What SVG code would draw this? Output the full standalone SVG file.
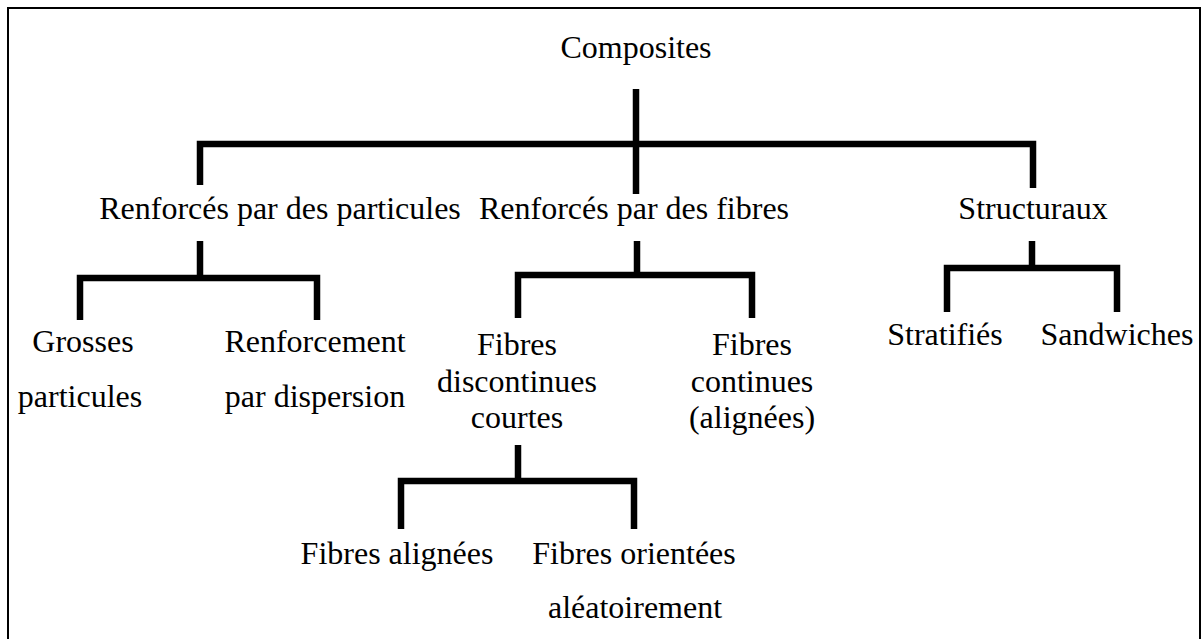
<svg xmlns="http://www.w3.org/2000/svg" width="1203" height="639" viewBox="0 0 1203 639">
<style>
text{font-family:"Liberation Serif","Times New Roman",serif;font-size:32px;fill:#000;text-anchor:middle}
.c{fill:none;stroke:#000;stroke-width:6.5;stroke-linecap:butt;stroke-linejoin:miter}
.b{fill:none;stroke:#000;stroke-width:2}
</style>
<rect width="1203" height="639" fill="#fff"/>
<path class="b" d="M8,639 V8 H1200 V639"/>
<g id="connectors">
<path class="c" d="M636,89 V194"/>
<path class="c" d="M200,185 V144 H1033 V188"/>
<path class="c" d="M200,241 V278"/>
<path class="c" d="M80,320 V278 H317 V320"/>
<path class="c" d="M637,241 V275"/>
<path class="c" d="M518,318 V275 H752 V318"/>
<path class="c" d="M1032,241 V268"/>
<path class="c" d="M947,312 V268 H1117 V312"/>
<path class="c" d="M518,445 V481"/>
<path class="c" d="M401,529 V481 H634 V529"/>
</g>
<g id="composites"><text x="636" y="58">Composites</text></g>
<g id="particules"><text x="280" y="219">Renforcés par des particules</text></g>
<g id="fibres"><text x="634" y="219">Renforcés par des fibres</text></g>
<g id="structuraux"><text x="1033" y="219">Structuraux</text></g>
<g id="grosses"><text x="83" y="352">Grosses</text><text x="80" y="407">particules</text></g>
<g id="dispersion"><text x="315" y="352">Renforcement</text><text x="315" y="407">par dispersion</text></g>
<g id="discontinues"><text x="517" y="355">Fibres</text><text x="517" y="392">discontinues</text><text x="517" y="428">courtes</text></g>
<g id="continues"><text x="752" y="355">Fibres</text><text x="752" y="392">continues</text><text x="752" y="428">(alignées)</text></g>
<g id="stratifies"><text x="945" y="345">Stratifiés</text></g>
<g id="sandwiches"><text x="1117" y="345">Sandwiches</text></g>
<g id="alignees"><text x="397" y="564">Fibres alignées</text></g>
<g id="aleatoire"><text x="634" y="564">Fibres orientées</text><text x="635" y="618">aléatoirement</text></g>
</svg>
